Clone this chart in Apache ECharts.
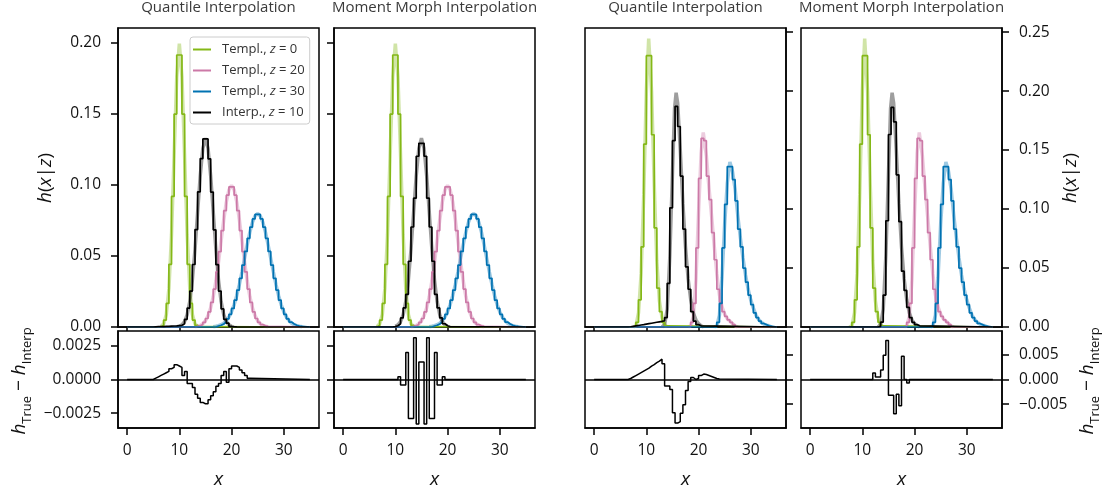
<!DOCTYPE html>
<html><head><meta charset="utf-8">
<script src="https://cdn.jsdelivr.net/npm/echarts@6/dist/echarts.min.js"></script>
<style>html,body{margin:0;padding:0;background:#fff}#c{width:1110px;height:494px}</style>
</head><body><div id="c"></div>
<script>
// ---------------- data ----------------
const BIN_WIDTH = 0.5;
const X_RANGE = [0, 35];
const X_TICKS = [0, 10, 20, 30];
const TOP_L_TICKS = [0, 0.05, 0.10, 0.15, 0.20];
const TOP_R_TICKS = [0, 0.05, 0.10, 0.15, 0.20, 0.25];
const RES_L_TICKS = [-0.0025, 0, 0.0025];
const RES_R_TICKS = [-0.005, 0, 0.005];
const TITLES = ['Quantile Interpolation', 'Moment Morph Interpolation', 'Quantile Interpolation', 'Moment Morph Interpolation'];
const LEGEND_NAMES = ['Templ., z = 0', 'Templ., z = 20', 'Templ., z = 30', 'Interp., z = 10'];

// left example: templates (bin start, bin values)
const L_Z0_START = 6.0;
const L_Z0 = [0.0002,0.0011,0.0049,0.0166,0.0441,0.0919,0.1499,0.1915,0.1915,0.1499,0.0919,0.0441,0.0166,0.0049,0.0011,0.0002];
const L_Z20_START = 13.0;
const L_Z20 = [0.0004,0.0008,0.0017,0.0032,0.0060,0.0106,0.0173,0.0267,0.0388,0.0531,0.0679,0.0819,0.0928,0.0987,0.0987,0.0928,0.0819,0.0679,0.0531,0.0388,0.0267,0.0173,0.0106,0.0060,0.0032,0.0017,0.0008,0.0004];
const L_Z30_START = 17.0;
const L_Z30 = [0.0007,0.0012,0.0021,0.0035,0.0057,0.0089,0.0131,0.0189,0.0260,0.0343,0.0436,0.0532,0.0624,0.0703,0.0761,0.0793,0.0793,0.0761,0.0703,0.0624,0.0532,0.0436,0.0343,0.0260,0.0189,0.0131,0.0089,0.0057,0.0035,0.0021,0.0012,0.0007];
// left example: true densities (light curves), sampled every half unit
const L_T0_START = 6.5;
const L_T0 = [0.0004,0.0022,0.0088,0.0270,0.0648,0.1210,0.1760,0.1995,0.1760,0.1210,0.0648,0.0270,0.0088,0.0022,0.0004];
const L_T20_START = 13.0;
const L_T20 = [0.0002,0.0005,0.0011,0.0023,0.0044,0.0080,0.0135,0.0215,0.0323,0.0456,0.0605,0.0753,0.0880,0.0966,0.0997,0.0966,0.0880,0.0753,0.0605,0.0456,0.0323,0.0215,0.0135,0.0080,0.0044,0.0023,0.0011,0.0005,0.0002];
const L_T30_START = 16.5;
const L_T30 = [0.0002,0.0005,0.0009,0.0016,0.0027,0.0045,0.0071,0.0108,0.0158,0.0222,0.0300,0.0389,0.0484,0.0579,0.0666,0.0737,0.0782,0.0798,0.0782,0.0737,0.0666,0.0579,0.0484,0.0389,0.0300,0.0222,0.0158,0.0108,0.0071,0.0045,0.0027,0.0016,0.0009,0.0005,0.0002];
const L_T10_START = 10.0;
const L_T10 = [0.0005,0.0015,0.0038,0.0087,0.0180,0.0332,0.0547,0.0807,0.1065,0.1258,0.1330,0.1258,0.1065,0.0807,0.0547,0.0332,0.0180,0.0087,0.0038,0.0015,0.0005];
// left example: interpolations and residuals
const L_IQ_START = 5.0;
const L_IQ = [0.0001,0.0002,0.0002,0.0003,0.0004,0.0005,0.0006,0.0007,0.0008,0.0010,0.0012,0.0022,0.0054,0.0133,0.0253,0.0440,0.0686,0.0952,0.1186,0.1324,0.1324,0.1184,0.0950,0.0684,0.0439,0.0253,0.0127,0.0054,0.0027,0.0004,0.0002,0.0001];
const L_RQ_START = 5.0;
const L_RQ = [0.0001,0.0002,0.0003,0.0004,0.0005,0.0006,0.0008,0.0009,0.0011,0.0010,0.0009,0.0003,0.0006,-0.0003,-0.0003,-0.0006,-0.0011,-0.0014,-0.0017,-0.0018,-0.0018,-0.0015,-0.0012,-0.0009,-0.0005,-0.0003,0.0003,0.0006,-0.0002,0.0008,0.0010,0.0010,0.0009,0.0007,0.0005,0.0003,0.0001];
const L_IM_START = 9.5;
const L_IM = [0.0003,0.0009,0.0023,0.0064,0.0134,0.0230,0.0463,0.0704,0.0907,0.1202,0.1293,0.1293,0.1202,0.0907,0.0704,0.0463,0.0230,0.0134,0.0064,0.0023,0.0009,0.0003];
const L_RM_START = 10.5;
const L_RM = [0.0002,-0.0004,-0.0004,0.0020,-0.0029,-0.0029,0.0031,-0.0033,0.0013,0.0013,-0.0033,0.0031,-0.0029,-0.0029,0.0020,-0.0004,-0.0004,0.0002];

// right example: templates
const R_Z0_START = 8.0;
const R_Z0 = [0.004,0.023,0.068,0.155,0.230,0.230,0.163,0.084,0.033,0.013,0.004,0.001];
const R_Z20_START = 18.5;
const R_Z20 = [0.004,0.020,0.067,0.126,0.160,0.158,0.128,0.108,0.080,0.057,0.032,0.021,0.013,0.009,0.006,0.004,0.002];
const R_Z30_START = 23.5;
const R_Z30 = [0.004,0.020,0.067,0.104,0.136,0.136,0.125,0.107,0.083,0.068,0.050,0.038,0.027,0.019,0.012,0.008,0.005,0.003,0.002,0.001];
// right example: true densities (x, y)
const R_T0 = [[7.5,0],[8,0.001],[8.5,0.012],[9,0.045],[9.5,0.112],[10,0.200],[10.45,0.2445],[11,0.200],[11.5,0.122],[12,0.056],[12.5,0.022],[13,0.008],[13.5,0.002],[14,0]];
const R_T20 = [[18,0],[18.5,0.001],[19,0.009],[19.5,0.040],[20,0.097],[20.5,0.148],[20.9,0.165],[21.5,0.145],[22,0.118],[22.5,0.094],[23,0.069],[23.5,0.045],[24,0.027],[24.5,0.017],[25,0.011],[25.5,0.007],[26,0.005],[26.5,0.003],[27,0.001],[27.5,0]];
const R_T30 = [[23,0],[23.5,0.001],[24,0.010],[24.5,0.042],[25,0.087],[25.5,0.122],[26,0.140],[26.5,0.132],[27,0.117],[27.5,0.095],[28,0.076],[28.5,0.059],[29,0.044],[29.5,0.032],[30,0.023],[30.5,0.016],[31,0.010],[31.5,0.0065],[32,0.004],[32.5,0.0025],[33,0.0015],[33.5,0.001],[34,0]];
const R_T10 = [[13,0],[13.5,0.002],[14,0.015],[14.5,0.060],[15,0.130],[15.4,0.185],[15.7,0.1986],[16,0.190],[16.5,0.150],[17,0.105],[17.5,0.068],[18,0.041],[18.5,0.023],[19,0.012],[19.5,0.006],[20,0.003],[20.5,0.001],[21,0]];
// right example: interpolations and residuals
const R_IQ_START = 6.5;
const R_IQ = [0.0002,0.0006,0.0010,0.0013,0.0017,0.0020,0.0024,0.0028,0.0032,0.0036,0.0040,0.0044,0.0048,0.0053,0.008,0.037,0.101,0.158,0.187,0.170,0.128,0.083,0.051,0.032,0.013,0.005,0.002,0.001];
const R_RQ_START = 6.5;
const R_RQ = [0.0002,0.0005,0.0008,0.0011,0.0014,0.0017,0.0020,0.0023,0.0027,0.0030,0.0034,0.0037,0.0041,0.0032,-0.0013,-0.0013,-0.0020,-0.0067,-0.0088,-0.0085,-0.0068,-0.0051,-0.0022,-0.0004,0.0004,0.0000,0.0002,0.0008,0.0011,0.0010,0.0008,0.0006,0.0004,0.0002,0.0001];
const R_IM_START = 13.0;
const R_IM = [0.0005,0.0041,0.0271,0.0901,0.1632,0.1862,0.1739,0.1290,0.0893,0.0473,0.0310,0.0167,0.008,0.004,0.002,0.001];
const R_RM_START = 12.0;
const R_RM = [0.0013,0.0005,0.0005,0.0019,0.0049,0.0079,-0.0032,-0.0032,-0.0069,-0.0030,-0.0053,0.0047,0.0000,-0.0007];

// ---------------- styling / layout ----------------
const GREEN = '#84b817', PINK = '#cc79a7', BLUE = '#0072b2', BLACK = '#000000';
const FONT = "'Open Sans','Noto Sans',sans-serif";
const LEFTS = [118, 334, 585, 801], PW = 201;
const TOP_T = 28, TOP_H = 299, BOT_T = 331, BOT_H = 97;
const X_MIN = -1.75, X_MAX = 36.75;

function stepData(start, vals) {
  const d = [[X_RANGE[0], 0]];
  vals.forEach((v, i) => d.push([start + i * BIN_WIDTH, v]));
  d.push([start + vals.length * BIN_WIDTH, 0]);
  d.push([X_RANGE[1], 0]);
  return d;
}
function edgeData(start, vals) { return vals.map((v, i) => [start + i * BIN_WIDTH, v]); }
const fmt = d => v => (v < -1e-12 ? '\u2212' : '') + Math.abs(v).toFixed(d);

const grids = [], xAxes = [], yAxes = [], series = [];
for (let p = 0; p < 4; p++) {
  const right = p >= 2;
  [[TOP_T, TOP_H, true], [BOT_T, BOT_H, false]].forEach(([t, h, top]) => {
    const gi = grids.length;
    grids.push({left: LEFTS[p], top: t, width: PW, height: h, show: true, borderColor: '#000', borderWidth: 1.5, backgroundColor: 'transparent'});
    xAxes.push({
      gridIndex: gi, type: 'value', min: X_MIN, max: X_MAX,
      axisLine: {show: true, onZero: false, lineStyle: {color: '#000', width: 1.5}},
      axisTick: {show: true, customValues: X_TICKS, length: top ? 4 : 7, lineStyle: {color: '#000', width: 1.5}},
      axisLabel: {show: !top, customValues: X_TICKS, margin: 15, color: '#111', fontSize: 15.5, fontFamily: FONT},
      splitLine: {show: false},
      name: top ? '' : 'x', nameLocation: 'middle', nameGap: 42,
      nameTextStyle: {fontStyle: 'italic', fontSize: 19, fontFamily: FONT, color: '#111'}
    });
    const ticks = top ? (right ? TOP_R_TICKS : TOP_L_TICKS) : (right ? RES_R_TICKS : RES_L_TICKS);
    const range = top ? (right ? [0, 0.2535] : [0, 0.2105]) : (right ? [-0.0098, 0.0098] : [-0.0036, 0.0036]);
    const dec = top ? 2 : (right ? 3 : 4);
    yAxes.push({
      gridIndex: gi, type: 'value', min: range[0], max: range[1], position: right ? 'right' : 'left',
      axisLine: {show: true, onZero: false, lineStyle: {color: '#000', width: 1.5}},
      axisTick: {show: true, customValues: ticks, length: 7, lineStyle: {color: '#000', width: 1.5}},
      axisLabel: {show: p === 0 || p === 3, customValues: ticks, formatter: fmt(dec), margin: 17, color: '#111', fontSize: 15.5, fontFamily: FONT},
      splitLine: {show: false}
    });
  });
}

function dark(gi, data, color, name) {
  series.push({type: 'line', name: name || ('s' + series.length), xAxisIndex: gi, yAxisIndex: gi, data, step: 'end', symbol: 'none',
    color, itemStyle: {color}, lineStyle: {color, width: 1.7}, z: 4, silent: true, animation: false});
}
function light(gi, data, color) {
  series.push({type: 'line', name: 'l' + series.length, xAxisIndex: gi, yAxisIndex: gi, data, symbol: 'none',
    lineStyle: {color, width: 3.5, opacity: 0.38}, z: 3, silent: true, animation: false});
}
function resid(gi, data) {
  series.push({type: 'line', name: 'r' + series.length, xAxisIndex: gi, yAxisIndex: gi, data, step: 'end', symbol: 'none',
    lineStyle: {color: '#000', width: 1.5}, z: 4, silent: true, animation: false,
    markLine: {silent: true, symbol: 'none', label: {show: false}, data: [{yAxis: 0}], lineStyle: {color: '#000', width: 1.7, type: 'solid'}, animation: false}});
}

const LT = [[L_T0_START, L_T0], [L_T20_START, L_T20], [L_T30_START, L_T30], [L_T10_START, L_T10]];
const LTEMPL = [[L_Z0_START, L_Z0], [L_Z20_START, L_Z20], [L_Z30_START, L_Z30]];
const COLORS = [GREEN, PINK, BLUE, BLACK];
// panels 1 & 2 (left example)
[0, 2].forEach((gi, k) => {
  LT.forEach(([s, v], i) => light(gi, edgeData(s, v), COLORS[i]));
  LTEMPL.forEach(([s, v], i) => dark(gi, stepData(s, v), COLORS[i], k === 0 ? LEGEND_NAMES[i] : null));
  if (k === 0) dark(gi, stepData(L_IQ_START, L_IQ), BLACK, LEGEND_NAMES[3]);
  else dark(gi, stepData(L_IM_START, L_IM), BLACK);
});
resid(1, stepData(L_RQ_START, L_RQ));
resid(3, stepData(L_RM_START, L_RM));
// panels 3 & 4 (right example)
const RT = [R_T0, R_T20, R_T30, R_T10];
const RTEMPL = [[R_Z0_START, R_Z0], [R_Z20_START, R_Z20], [R_Z30_START, R_Z30]];
[4, 6].forEach((gi, k) => {
  RT.forEach((d, i) => light(gi, d, COLORS[i]));
  RTEMPL.forEach(([s, v], i) => dark(gi, stepData(s, v), COLORS[i]));
  if (k === 0) dark(gi, stepData(R_IQ_START, R_IQ), BLACK);
  else dark(gi, stepData(R_IM_START, R_IM), BLACK);
});
resid(5, stepData(R_RQ_START, R_RQ));
resid(7, stepData(R_RM_START, R_RM));

// text elements
const graphic = [];
TITLES.forEach((t, p) => graphic.push({type: 'text', x: LEFTS[p] + PW / 2, y: 8,
  style: {text: t, fill: '#3a3a3a', font: "15px " + FONT, align: 'center', verticalAlign: 'middle'}}));
const hxz = {text: '{i|h}({i|x}|{i|z})', fill: '#111', font: '19px ' + FONT, align: 'center', verticalAlign: 'middle',
  rich: {i: {fontStyle: 'italic', fontSize: 19, fontFamily: FONT, fill: '#111'}}};
graphic.push({type: 'text', x: 46, y: 178, rotation: Math.PI / 2, style: Object.assign({}, hxz)});
graphic.push({type: 'text', x: 1071, y: 178, rotation: Math.PI / 2, style: Object.assign({}, hxz)});
const hres = {text: '{i|h}{s|True}{n| \u2212 }{i|h}{s|Interp}', fill: '#111', align: 'center', verticalAlign: 'middle',
  rich: {
    i: {fontStyle: 'italic', fontSize: 19, fontFamily: FONT, fill: '#111', verticalAlign: 'bottom', padding: [0, 0, 5, 0]},
    n: {fontSize: 19, fontFamily: FONT, fill: '#111', verticalAlign: 'bottom', padding: [0, 0, 5, 0]},
    s: {fontSize: 13, fontFamily: FONT, fill: '#111', verticalAlign: 'bottom', padding: [0, 0, 0, 0]}
  }};
graphic.push({type: 'text', x: 22, y: 381, rotation: Math.PI / 2, style: Object.assign({}, hres)});
graphic.push({type: 'text', x: 1090, y: 381, rotation: Math.PI / 2, style: Object.assign({}, hres)});

const option = {
  animation: false,
  grid: grids, xAxis: xAxes, yAxis: yAxes, series,
  legend: {
    data: LEGEND_NAMES.map((n, i) => ({name: n, itemStyle: {color: COLORS[i]}})),
    orient: 'vertical', left: 190, top: 37, icon: 'rect', itemWidth: 18, itemHeight: 2, itemGap: 8,
    padding: [6, 5, 5, 3], borderColor: '#cccccc', borderWidth: 1, borderRadius: 3, backgroundColor: 'rgba(255,255,255,0.85)',
    selectedMode: false,
    formatter: n => '{g|}' + n.replace('z', '{i|z}'),
    textStyle: {fontSize: 13, color: '#333', fontFamily: FONT,
      rich: {g: {width: 6}, i: {fontStyle: 'italic', fontSize: 13, color: '#333', fontFamily: FONT}}}
  },
  graphic
};
const chart = echarts.init(document.getElementById('c'), null, {renderer: 'canvas'});
chart.setOption(option);
</script></body></html>
